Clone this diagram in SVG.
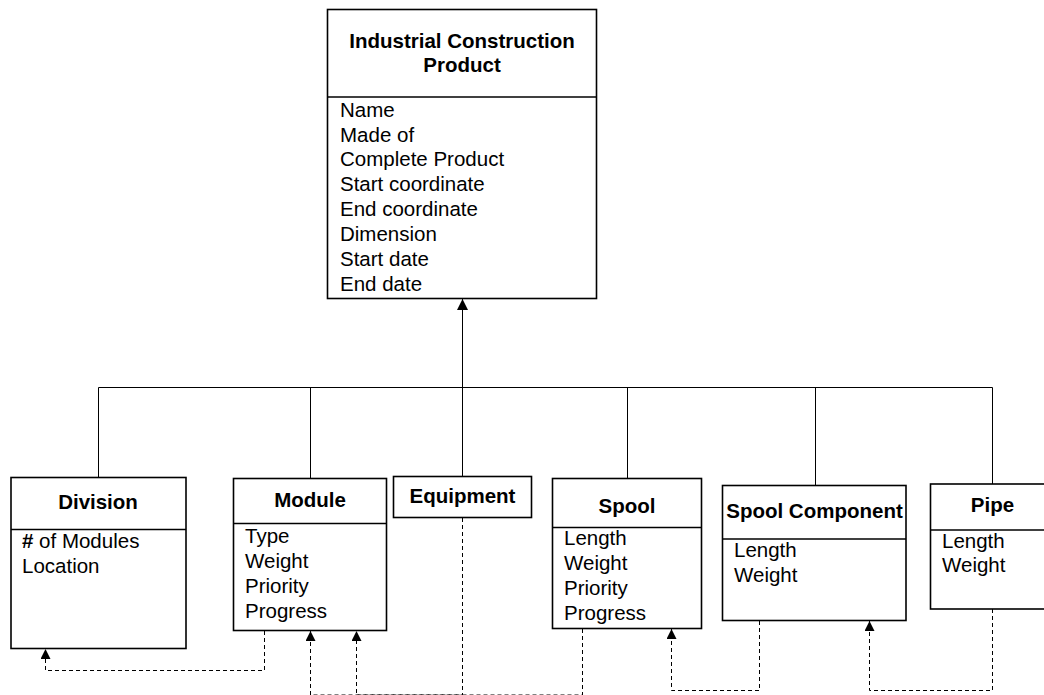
<svg xmlns="http://www.w3.org/2000/svg" width="1044" height="695" viewBox="0 0 1044 695">
  <defs>
    <style>
      .box { fill: #fff; stroke: #000; stroke-width: 1.6; }
      .div { stroke: #000; stroke-width: 1.6; }
      .title { font-family: "Liberation Sans", Arial, sans-serif; font-size: 20.5px; font-weight: bold; text-anchor: middle; fill: #000; }
      .attr { font-family: "Liberation Sans", Arial, sans-serif; font-size: 20.5px; fill: #000; }
      .solid { fill: none; stroke: #000; stroke-width: 1; }
      .dash { fill: none; stroke: #000; stroke-width: 1; stroke-dasharray: 4 3; }
    </style>
    <marker id="head" viewBox="0 0 10 10" refX="10" refY="5" markerWidth="10" markerHeight="10" markerUnits="userSpaceOnUse" orient="auto">
      <path d="M0,0 L10,5 L0,10 Z" fill="#000"/>
    </marker>
    <marker id="headBig" viewBox="0 0 11 11" refX="11" refY="5.5" markerWidth="11" markerHeight="11" markerUnits="userSpaceOnUse" orient="auto">
      <path d="M0,0 L11,5.5 L0,11 Z" fill="#000"/>
    </marker>
  </defs>
  <rect width="1044" height="695" fill="#fff"/>

  <!-- generalisation tree and dependency lines -->
  <g id="connectors">
    <line class="solid" x1="98.5" y1="387.5" x2="992.5" y2="387.5"/>
    <line class="solid" x1="98.5" y1="387.5" x2="98.5" y2="477"/>
    <line class="solid" x1="310.5" y1="387.5" x2="310.5" y2="478"/>
    <line class="solid" x1="462.5" y1="387.5" x2="462.5" y2="476"/>
    <line class="solid" x1="627.5" y1="387.5" x2="627.5" y2="478"/>
    <line class="solid" x1="815.5" y1="387.5" x2="815.5" y2="485"/>
    <line class="solid" x1="992.5" y1="387.5" x2="992.5" y2="484"/>
    <line class="solid" x1="462.5" y1="387.5" x2="462.5" y2="299" marker-end="url(#headBig)"/>

    <!-- Module to Division -->
    <polyline class="dash" points="264.5,631 264.5,670.5 45.5,670.5 45.5,649" marker-end="url(#head)"/>
    <!-- Equipment to Module -->
    <polyline class="dash" points="462.5,518 462.5,695 310.5,695 310.5,631" marker-end="url(#head)"/>
    <!-- Spool to Module -->
    <polyline class="dash" points="582.5,629 582.5,695 356.5,695 356.5,631" marker-end="url(#head)"/>
    <!-- Spool Component to Spool -->
    <polyline class="dash" points="759.5,621 759.5,690.5 671.5,690.5 671.5,629" marker-end="url(#head)"/>
    <!-- Pipe to Spool Component -->
    <polyline class="dash" points="992.5,609 992.5,690.5 869.5,690.5 869.5,621" marker-end="url(#head)"/>
  </g>

  <g id="product">
    <rect class="box" x="327.5" y="9.5" width="269" height="289"/>
    <line class="div" x1="327.5" y1="97" x2="596.5" y2="97"/>
    <text class="title" x="462" y="48">Industrial Construction</text>
    <text class="title" x="462" y="72">Product</text>
    <text class="attr" x="340" y="117">Name</text>
    <text class="attr" x="340" y="142">Made of</text>
    <text class="attr" x="340" y="166">Complete Product</text>
    <text class="attr" x="340" y="191">Start coordinate</text>
    <text class="attr" x="340" y="216">End coordinate</text>
    <text class="attr" x="340" y="241">Dimension</text>
    <text class="attr" x="340" y="266">Start date</text>
    <text class="attr" x="340" y="291">End date</text>
  </g>

  <g id="division">
    <rect class="box" x="11" y="477.5" width="175" height="171"/>
    <line class="div" x1="11" y1="529.5" x2="186" y2="529.5"/>
    <text class="title" x="98" y="509">Division</text>
    <text class="attr" x="22" y="548"><tspan font-weight="bold">#</tspan> of Modules</text>
    <text class="attr" x="22" y="573">Location</text>
  </g>

  <g id="module">
    <rect class="box" x="233.5" y="478.5" width="153" height="152"/>
    <line class="div" x1="233.5" y1="523.5" x2="386.5" y2="523.5" stroke-width="2.6"/>
    <text class="title" x="310" y="507">Module</text>
    <text class="attr" x="245" y="543">Type</text>
    <text class="attr" x="245" y="568">Weight</text>
    <text class="attr" x="245" y="593">Priority</text>
    <text class="attr" x="245" y="618">Progress</text>
  </g>

  <g id="equipment">
    <rect class="box" x="393.5" y="476.5" width="138" height="41"/>
    <text class="title" x="462.5" y="503">Equipment</text>
  </g>

  <g id="spool">
    <rect class="box" x="552.5" y="478.5" width="149" height="150"/>
    <line class="div" x1="552.5" y1="527.5" x2="701.5" y2="527.5"/>
    <text class="title" x="627" y="513">Spool</text>
    <text class="attr" x="564" y="545">Length</text>
    <text class="attr" x="564" y="570">Weight</text>
    <text class="attr" x="564" y="595">Priority</text>
    <text class="attr" x="564" y="620">Progress</text>
  </g>

  <g id="spool-component">
    <rect class="box" x="722.5" y="485.5" width="183.5" height="135"/>
    <line class="div" x1="722.5" y1="539" x2="906" y2="539"/>
    <text class="title" x="814.5" y="518">Spool Component</text>
    <text class="attr" x="734" y="557">Length</text>
    <text class="attr" x="734" y="582">Weight</text>
  </g>

  <g id="pipe">
    <rect class="box" x="930.5" y="484" width="130" height="125"/>
    <line class="div" x1="930.5" y1="530" x2="1060" y2="530"/>
    <text class="title" x="992.5" y="512">Pipe</text>
    <text class="attr" x="942" y="548">Length</text>
    <text class="attr" x="942" y="572">Weight</text>
  </g>
</svg>
